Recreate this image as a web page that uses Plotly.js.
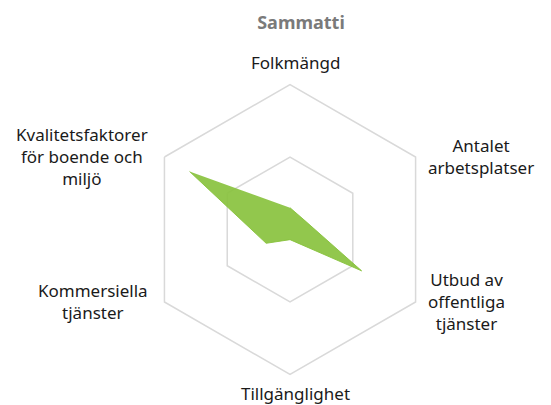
<!DOCTYPE html>
<html>
<head>
<meta charset="utf-8">
<script src="https://cdn.plot.ly/plotly-3.0.1.min.js"></script>
<style>
	body { margin: 0; background: #fff; }
	#chart { width: 551px; height: 405px; }
</style>
</head>
<body>
<div id="chart"></div>
<script>
// axes, clockwise from the top
var categories = ['Folkmängd', 'Antalet arbetsplatser', 'Utbud av offentliga tjänster',
	'Tillgänglighet', 'Kommersiella tjänster', 'Kvalitetsfaktorer för boende och miljö'];
var labelLines = ['Folkmängd', 'Antalet<br>arbetsplatser', 'Utbud av<br>offentliga<br>tjänster',
	'Tillgänglighet', 'Kommersiella<br>tjänster', 'Kvalitetsfaktorer<br>för boende och<br>miljö'];
var sammatti = [0.15, 0.12, 0.57, 0.07, 0.19, 0.80];

var W = 551, H = 405;
var domX = [0.2632, 0.7895];
var domY = [0.0753, 0.7914];

function buildLabels(){
	// put each category label just outside its outer vertex
	var cx = (domX[0] + domX[1]) / 2 * W;
	var cy = H - (domY[0] + domY[1]) / 2 * H;
	var R = (domX[1] - domX[0]) * W / 2;
	var pad = 12;
	return labelLines.map((txt, i) => {
		var a = (90 - 60 * i) * Math.PI / 180;
		var px = cx + R * Math.cos(a);
		var py = cy - R * Math.sin(a);
		var ann = {
			text: txt,
			showarrow: false,
			xref: 'paper',
			yref: 'paper',
			align: 'center',
			font: {size: 17, color: '#1a1a1a'}
		};
		if(Math.abs(Math.cos(a)) < 0.1){
			ann.xanchor = 'center';
			ann.x = (px + 5) / W;
			if(Math.sin(a) > 0){
				ann.yanchor = 'bottom';
				ann.y = (H - py + pad - 4) / H;
			}
			else{
				ann.yanchor = 'top';
				ann.y = (H - py - pad + 6) / H;
			}
		}
		else{
			ann.yanchor = 'middle';
			ann.y = (H - py) / H;
			if(Math.cos(a) > 0){
				ann.xanchor = 'left';
				ann.x = (px + pad - 2) / W;
			}
			else{
				ann.xanchor = 'right';
				ann.x = (px - pad - 2) / W;
			}
		}
		return ann;
	});
}

var data = [{
	type: 'scatterpolar',
	r: sammatti,
	theta: categories,
	mode: 'lines',
	fill: 'toself',
	fillcolor: 'rgba(137,194,62,0.92)',
	line: {color: 'rgba(137,194,62,0.92)', width: 1},
	hoverinfo: 'skip'
}];

var layout = {
	width: W,
	height: H,
	margin: {l: 0, r: 0, t: 0, b: 0},
	paper_bgcolor: '#ffffff',
	font: {family: '"Noto Sans", "Open Sans", sans-serif', color: '#1a1a1a'},
	showlegend: false,
	title: {
		text: '<b>Sammatti</b>',
		font: {size: 18, color: '#7a7a7a'},
		x: 301 / W,
		xanchor: 'center',
		y: 1 - 23 / H,
		yanchor: 'middle'
	},
	polar: {
		domain: {x: domX, y: domY},
		bgcolor: 'rgba(0,0,0,0)',
		gridshape: 'linear',
		radialaxis: {
			range: [0, 1],
			dtick: 0.5,
			showticklabels: false,
			ticks: '',
			showline: false,
			gridcolor: '#d9d9d9',
			gridwidth: 1.5
		},
		angularaxis: {
			direction: 'clockwise',
			rotation: 90,
			showgrid: false,
			showticklabels: false,
			ticks: '',
			showline: true,
			linecolor: '#d9d9d9',
			linewidth: 1.5
		}
	},
	annotations: buildLabels()
};

Plotly.newPlot('chart', data, layout, {displayModeBar: false, staticPlot: true});
</script>
</body>
</html>
